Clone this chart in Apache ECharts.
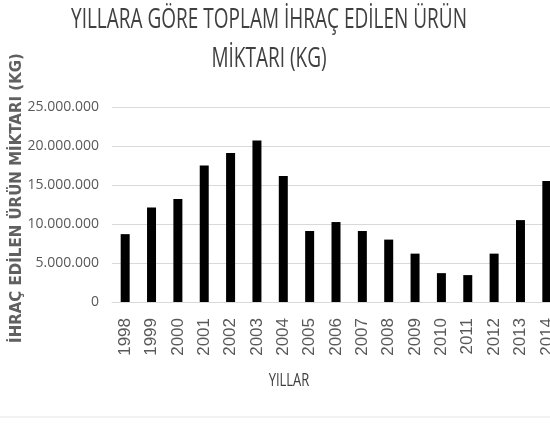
<!DOCTYPE html>
<html>
<head>
<meta charset="utf-8">
<script src="https://cdn.jsdelivr.net/npm/echarts@6/dist/echarts.min.js"></script>
<style>
  html, body { margin: 0; padding: 0; background: #fff; overflow: hidden; }
  /* orijinal grafik sagdan kirpilmis, bu yuzden kutu pencereden biraz genis */
  #chart { width: 560px; height: 426px; }
</style>
</head>
<body>
<div id="chart"></div>
<script>
// yillar ve ihracat miktarlari (kg)
var years = ['1998', '1999', '2000', '2001', '2002', '2003', '2004', '2005', '2006',
  '2007', '2008', '2009', '2010', '2011', '2012', '2013', '2014'];
var amounts = [8700000, 12100000, 13200000, 17500000, 19100000, 20700000, 16150000, 9100000,
  10250000, 9100000, 8000000, 6200000, 3700000, 3450000, 6200000, 10500000, 15500000];
var yTicks = [0, 5000000, 10000000, 15000000, 20000000, 25000000];
var titleLines = ['YILLARA GÖRE TOPLAM İHRAÇ EDİLEN ÜRÜN', 'MİKTARI (KG)'];

var chart = echarts.init(document.getElementById('chart'));

function fmt(v) {
  return String(v).replace(/\B(?=(\d{3})+(?!\d))/g, '.');
}

// resimdeki yazilar dikeyde biraz uzun, scaleY ile benzetiyoruz
function stretched(txt, x, y, size) {
  return {
    type: 'text',
    x: x,
    y: y,
    scaleY: 1.42,
    style: {
      text: txt,
      font: size + 'px "Open Sans"',
      fill: '#404040',
      textAlign: 'center',
      textVerticalAlign: 'middle'
    }
  };
}

var option = {
  animation: false,
  graphic: [
    stretched(titleLines[0], 269, 20, 19),
    stretched(titleLines[1], 269, 59, 19),
    stretched('YILLAR', 289, 381, 13),
    {
      type: 'text',
      x: 17,
      y: 198,
      rotation: Math.PI / 2,
      style: {
        text: 'İHRAÇ EDİLEN ÜRÜN MİKTARI (KG)',
        font: 'bold 15px "DejaVu Sans"',
        fill: '#606060',
        textAlign: 'center',
        textVerticalAlign: 'middle'
      }
    },
    {
      type: 'line',
      shape: { x1: 0, y1: 417, x2: 560, y2: 417 },
      style: { stroke: '#e6e6e6', lineWidth: 1 }
    }
  ],
  grid: {
    left: 112,
    right: 0,
    top: 107,
    bottom: 124
  },
  xAxis: {
    type: 'category',
    data: years,
    axisLine: { lineStyle: { color: '#d9d9d9', width: 1 } },
    axisTick: { show: false },
    axisLabel: {
      rotate: 90,
      margin: 16,
      fontFamily: 'Liberation Sans',
      fontSize: 17,
      color: '#595959'
    }
  },
  yAxis: {
    type: 'value',
    min: yTicks[0],
    max: yTicks[yTicks.length - 1],
    interval: 5000000,
    axisLine: { show: false },
    axisTick: { show: false },
    splitLine: { lineStyle: { color: '#d9d9d9', width: 1 } },
    axisLabel: {
      margin: 13,
      fontFamily: 'Open Sans',
      fontSize: 14,
      color: '#595959',
      formatter: fmt
    }
  },
  series: [
    {
      type: 'bar',
      data: amounts,
      barWidth: 9,
      itemStyle: { color: '#000000' }
    }
  ]
};

chart.setOption(option);
window.addEventListener('resize', chart.resize);
</script>
</body>
</html>
